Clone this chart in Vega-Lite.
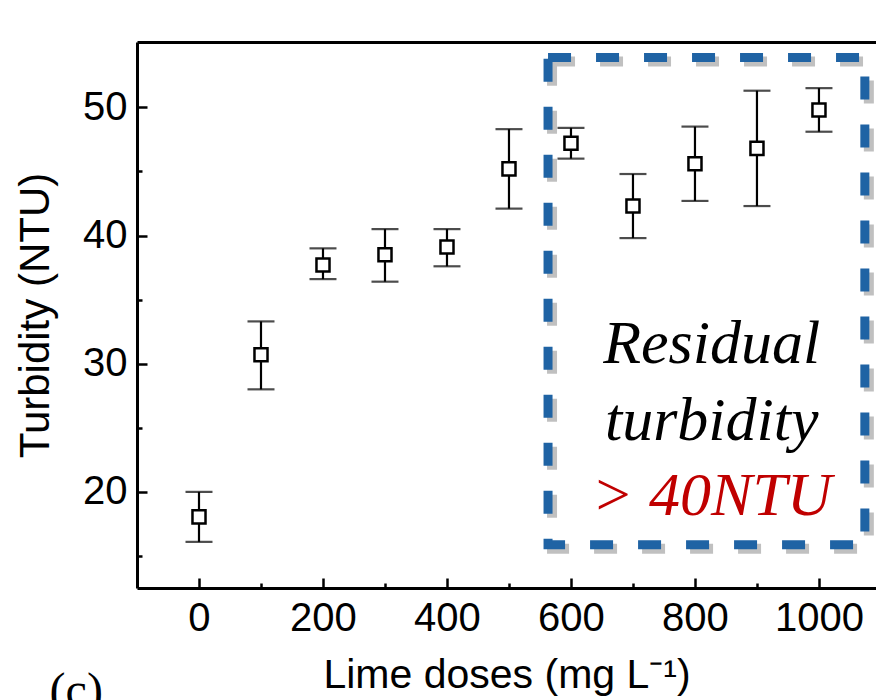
{
  "$schema": "https://vega.github.io/schema/vega-lite/v6.json",
  "width": 739,
  "height": 546,
  "autosize": {"type": "none"},
  "padding": {"left": 137, "top": 42, "right": 0, "bottom": 112},
  "background": "white",
  "config": {
    "view": {"stroke": null},
    "axis": {
      "labelFont": "Liberation Sans",
      "titleFont": "Liberation Sans",
      "labelFontSize": 40,
      "titleFontSize": 42,
      "titleFontWeight": "normal",
      "labelColor": "#000",
      "titleColor": "#000",
      "domainColor": "#000",
      "tickColor": "#000",
      "domainWidth": 3,
      "tickWidth": 2.5,
      "grid": false
    }
  },
  "datasets": {
    "pts": [
      {"dose": 0, "t": 18.05, "lo": 16.1, "hi": 20.0},
      {"dose": 100, "t": 30.7, "lo": 28.0, "hi": 33.3},
      {"dose": 200, "t": 37.7, "lo": 36.6, "hi": 39.0},
      {"dose": 300, "t": 38.5, "lo": 36.4, "hi": 40.5},
      {"dose": 400, "t": 39.1, "lo": 37.6, "hi": 40.5},
      {"dose": 500, "t": 45.2, "lo": 42.1, "hi": 48.3},
      {"dose": 600, "t": 47.2, "lo": 46.0, "hi": 48.4},
      {"dose": 700, "t": 42.3, "lo": 39.8, "hi": 44.8},
      {"dose": 800, "t": 45.6, "lo": 42.7, "hi": 48.5},
      {"dose": 900, "t": 46.8, "lo": 42.3, "hi": 51.3},
      {"dose": 1000, "t": 49.8, "lo": 48.1, "hi": 51.5}
    ],
    "box": [{"x1": 563, "x2": 1074, "y1": 15.87, "y2": 53.9}],
    "notes": [
      {"x": 827, "y": 30.06, "label": "Residual", "kind": "black"},
      {"x": 827, "y": 24.06, "label": "turbidity", "kind": "black"},
      {"x": 827, "y": 18.2, "label": "> 40NTU", "kind": "red"}
    ],
    "panel": [{"x": -198, "y": 3.3, "label": "(c)"}]
  },
  "resolve": {"axis": {"x": "independent", "y": "independent"}},
  "layer": [
    {
      "data": {"name": "box"},
      "mark": {"type": "rect", "fill": null, "stroke": "#8c8c8c", "strokeOpacity": 0.55, "strokeWidth": 10, "strokeDash": [23, 25], "xOffset": 4, "x2Offset": 4, "yOffset": 4, "y2Offset": 4},
      "encoding": {
        "x": {"field": "x1", "type": "quantitative", "scale": {"domain": [-100, 1092], "nice": false, "zero": false}, "axis": null},
        "x2": {"field": "x2"},
        "y": {"field": "y1", "type": "quantitative", "scale": {"domain": [12.5, 55.1], "nice": false, "zero": false}, "axis": null},
        "y2": {"field": "y2"}
      }
    },
    {
      "data": {"name": "box"},
      "mark": {"type": "rect", "fill": null, "stroke": "#1f63a4", "strokeWidth": 9, "strokeDash": [23, 25]},
      "encoding": {
        "x": {"field": "x1", "type": "quantitative", "axis": {"orient": "top", "domain": true, "ticks": false, "labels": false, "title": null}},
        "x2": {"field": "x2"},
        "y": {"field": "y1", "type": "quantitative", "axis": null},
        "y2": {"field": "y2"}
      }
    },
    {
      "data": {"name": "pts"},
      "mark": {"type": "errorbar", "ticks": {"size": 27, "thickness": 2.2, "color": "#000"}, "rule": {"strokeWidth": 2.2, "color": "#000"}},
      "encoding": {
        "x": {"field": "dose", "type": "quantitative", "title": "Lime doses (mg L⁻¹)",
          "axis": {"orient": "bottom", "values": [0, 200, 400, 600, 800, 1000], "format": "d", "tickSize": -10, "labelPadding": 20, "titlePadding": 17, "titleFontSize": 41, "domain": true, "labelFlush": false}},
        "y": {"field": "lo", "type": "quantitative", "title": "Turbidity (NTU)",
          "axis": {"orient": "left", "values": [20, 30, 40, 50], "tickSize": -10, "labelPadding": 20, "titlePadding": 25, "domain": true, "labelFlush": false}},
        "y2": {"field": "hi"}
      }
    },
    {
      "data": {"name": "pts"},
      "mark": {"type": "point", "shape": "square", "size": 170, "filled": false, "fill": "white", "fillOpacity": 1, "stroke": "#000", "strokeWidth": 2.5, "opacity": 1},
      "encoding": {
        "x": {"field": "dose", "type": "quantitative", "axis": {"orient": "bottom", "values": [100, 300, 500, 700, 900], "tickSize": -5, "labels": false, "domain": false, "title": null}},
        "y": {"field": "t", "type": "quantitative", "axis": {"orient": "left", "values": [15, 25, 35, 45], "tickSize": -5, "labels": false, "domain": false, "title": null}}
      }
    },
    {
      "data": {"name": "notes"},
      "mark": {"type": "text", "font": "Liberation Serif", "fontStyle": "italic", "fontSize": 62, "align": "center", "baseline": "alphabetic"},
      "encoding": {
        "x": {"field": "x", "type": "quantitative", "axis": null},
        "y": {"field": "y", "type": "quantitative", "axis": null},
        "text": {"field": "label"},
        "color": {"field": "kind", "type": "nominal", "scale": {"domain": ["black", "red"], "range": ["#000000", "#c00000"]}, "legend": null}
      }
    },
    {
      "data": {"name": "panel"},
      "mark": {"type": "text", "font": "Liberation Serif", "fontSize": 48, "align": "center", "baseline": "alphabetic", "color": "#000"},
      "encoding": {
        "x": {"field": "x", "type": "quantitative", "axis": null},
        "y": {"field": "y", "type": "quantitative", "axis": null},
        "text": {"field": "label"}
      }
    }
  ]
}
